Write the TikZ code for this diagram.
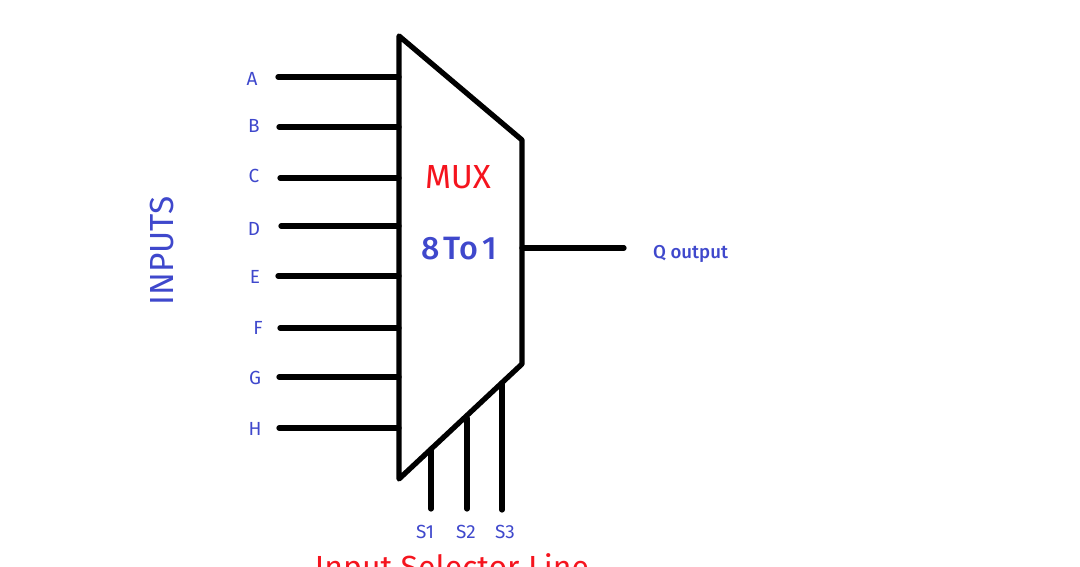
\documentclass[tikz,border=0pt]{standalone}
\usepackage{fontspec}
\setmainfont{Fira Sans}
\newfontfamily\mediumfont{Fira Sans Medium}
\usepackage{xcolor}
\definecolor{labelblue}{HTML}{3F48CC}
\definecolor{labelred}{HTML}{F5141E}
\begin{document}
\begin{tikzpicture}[line cap=round,line join=round,
  wire/.style={draw=black,line width=1.5pt},
  pinlabel/.style={text=labelblue,font=\fontsize{5.4}{6}\selectfont,inner sep=0pt},
  muxlabel/.style={inner sep=0pt,font=\fontsize{9.5}{11}\selectfont}]
\useasboundingbox (0,0) rectangle (10.8,5.67);
\clip (0,0) rectangle (10.8,5.67);
% mux body
\coordinate (bodyTL) at (3.99,5.31);
\coordinate (bodyTR) at (5.22,4.27);
\coordinate (bodyBR) at (5.22,2.03);
\coordinate (bodyBL) at (3.99,0.88);
\draw[wire] (bodyTL) -- (bodyTR) -- (bodyBR) -- (bodyBL) -- cycle;
% inputs
\coordinate (inA) at (2.78,4.90); \coordinate (pinA) at (3.99,4.90);
\coordinate (inB) at (2.79,4.40); \coordinate (pinB) at (3.99,4.40);
\coordinate (inC) at (2.80,3.89); \coordinate (pinC) at (3.99,3.89);
\coordinate (inD) at (2.81,3.41); \coordinate (pinD) at (3.99,3.41);
\coordinate (inE) at (2.78,2.91); \coordinate (pinE) at (3.99,2.91);
\coordinate (inF) at (2.80,2.39); \coordinate (pinF) at (3.99,2.39);
\coordinate (inG) at (2.79,1.90); \coordinate (pinG) at (3.99,1.90);
\coordinate (inH) at (2.79,1.39); \coordinate (pinH) at (3.99,1.39);
\draw[wire] (inA) -- (pinA);
\draw[wire] (inB) -- (pinB);
\draw[wire] (inC) -- (pinC);
\draw[wire] (inD) -- (pinD);
\draw[wire] (inE) -- (pinE);
\draw[wire] (inF) -- (pinF);
\draw[wire] (inG) -- (pinG);
\draw[wire] (inH) -- (pinH);
\node[pinlabel] (labelA) at (2.52,4.88) {A};
\node[pinlabel] (labelB) at (2.54,4.41) {B};
\node[pinlabel] (labelC) at (2.54,3.91) {C};
\node[pinlabel] (labelD) at (2.54,3.38) {D};
\node[pinlabel] (labelE) at (2.55,2.90) {E};
\node[pinlabel] (labelF) at (2.58,2.39) {F};
\node[pinlabel] (labelG) at (2.55,1.89) {G};
\node[pinlabel] (labelH) at (2.55,1.38) {H};
% output
\coordinate (outPin) at (5.22,3.19);
\coordinate (outEnd) at (6.24,3.19);
\draw[wire] (outPin) -- (outEnd);
\node[pinlabel,font=\fontsize{5.3}{6}\mediumfont] (labelQ) at (6.905,3.13) {Q output};
% selector lines
\coordinate (selA) at (4.31,1.18); \coordinate (selAend) at (4.31,0.58);
\coordinate (selB) at (4.67,1.49); \coordinate (selBend) at (4.67,0.58);
\coordinate (selC) at (5.02,1.84); \coordinate (selCend) at (5.02,0.57);
\draw[wire] (selA) -- (selAend);
\draw[wire] (selB) -- (selBend);
\draw[wire] (selC) -- (selCend);
\node[pinlabel] (labelSa) at (4.25,0.35) {S1};
\node[pinlabel] (labelSb) at (4.66,0.35) {S2};
\node[pinlabel] (labelSc) at (5.05,0.35) {S3};
% text
\node[muxlabel,text=labelred] (muxName) at (4.58,3.90) {MUX};
\node[muxlabel,text=labelblue,font=\fontsize{9.2}{11}\mediumfont] (muxSize) at (4.59,3.18) {8\kern.13em To\kern.13em 1};
\node[muxlabel,text=labelblue,rotate=90] (inputsLabel) at (1.62,3.16) {INPUTS};
\node[muxlabel,text=labelred,anchor=north,font=\fontsize{9.1}{11}\selectfont] (selectorLabel) at (4.52,0.14) {Input Selector Line};
\end{tikzpicture}
\end{document}
